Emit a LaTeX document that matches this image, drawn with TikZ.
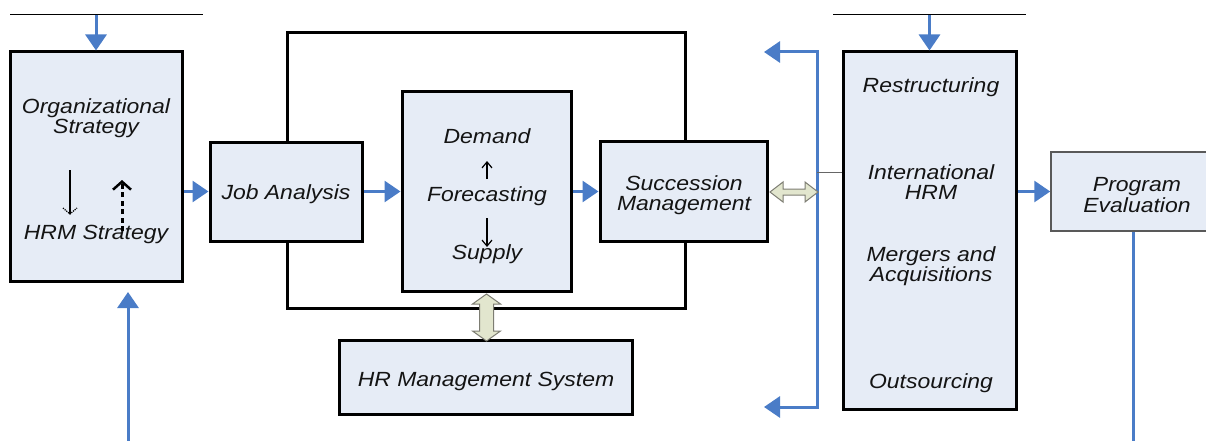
\documentclass[tikz,border=0pt]{standalone}
\usepackage{fontspec}
\setmainfont{Liberation Sans}[FakeStretch=1.12]
\usetikzlibrary{arrows.meta}
\definecolor{boxfill}{RGB}{230,236,246}
\definecolor{blu}{RGB}{74,124,199}
\definecolor{dafill}{RGB}{226,230,206}
\definecolor{daline}{RGB}{125,125,115}
\begin{document}
\begin{tikzpicture}[x=1pt,y=-1pt,
  box/.style={draw=black,line width=3pt,fill=boxfill,inner sep=0pt},
  txt/.style={font=\fontsize{20.5}{20.5}\selectfont\itshape,align=center,inner sep=0pt,text=black!92},
  flow/.style={blu,line width=3pt,-{Triangle[length=16pt,width=21pt]}},
  flowline/.style={blu,line width=3pt},
  dbl/.style={draw=daline,fill=dafill,line width=1pt,line join=miter},
  thinarrow/.style={line width=1.2pt,-{Straight Barb[length=6pt,width=10pt]}},
  rule/.style={line width=1pt,black}
]
\clip (0,0) rectangle (1206,441);
\useasboundingbox (0,0) rectangle (1206,441);

% outer frame
\node[draw,line width=3pt,minimum width=398pt,minimum height=275pt,inner sep=0pt] (frame) at (486,170.5) {};

% boxes
\node[box,minimum width=172pt,minimum height=229pt] (org) at (96,166.5) {};
\node[box,minimum width=152pt,minimum height=99pt] (ja) at (286,191.5) {};
\node[box,minimum width=169pt,minimum height=199pt] (fc) at (486.5,191.5) {};
\node[box,minimum width=167pt,minimum height=100pt] (sm) at (683.5,191) {};
\node[box,minimum width=173pt,minimum height=357pt] (rb) at (929.5,230.5) {};
\node[draw=black!65,line width=1.5pt,fill=boxfill,inner sep=0pt,minimum width=164pt,minimum height=79pt] (pe) at (1133,191.5) {};
\node[box,minimum width=293pt,minimum height=74pt] (hrms) at (485.5,377) {};

% texts
\node[txt] (t-org) at (96,118) {Organizational\\Strategy};
\node[txt] (t-hrm) at (96,234) {HRM Strategy};
\node[txt] (t-ja) at (286,194) {Job Analysis};
\node[txt] (t-dem) at (487,136) {Demand};
\node[txt] (t-fc) at (487,196) {Forecasting};
\node[txt] (t-sup) at (487,254) {Supply};
\node[txt] (t-sm) at (684,195) {Succession\\Management};
\node[txt] (t-re) at (931,87) {Restructuring};
\node[txt] (t-ih) at (931,182) {International\\HRM};
\node[txt] (t-ma) at (931,266) {Mergers and\\Acquisitions};
\node[txt] (t-out) at (931,383) {Outsourcing};
\node[txt] (t-pe) at (1137,195) {Program\\Evaluation};
\node[txt] (t-hs) at (486,381) {HR Management System};

% arrows inside strategy box
\coordinate (s1a) at (70,170);
\coordinate (s1b) at (70,214);
\draw[line width=1.5pt] (s1a) -- (s1b);
\draw[line width=1.2pt,densely dotted] (63,208) -- (s1b) -- (77,208);
\coordinate (s2a) at (122,231);
\coordinate (s2b) at (122,180);
\draw[line width=3pt,dash pattern=on 5pt off 3.5pt,-{Straight Barb[length=8pt,width=18pt,line width=2.5pt]}] (s2a) -- (s2b);

% arrows inside forecasting box
\coordinate (f1a) at (487,179);
\coordinate (f1b) at (487,161);
\draw[thinarrow] (f1a) -- (f1b);
\coordinate (f2a) at (487,218);
\coordinate (f2b) at (487,247);
\draw[thinarrow] (f2a) -- (f2b);

% top rules and feeds
\coordinate (r1a) at (10,15);
\coordinate (r1b) at (203,15);
\draw[rule] (r1a) -- (r1b);
\coordinate (r1m) at (96,15);
\draw[flow] (r1m) -- (org.north);
\coordinate (r2a) at (833,15);
\coordinate (r2b) at (1026,15);
\draw[rule] (r2a) -- (r2b);
\coordinate (r2m) at (929.5,15);
\draw[flow] (r2m) -- (rb.north);

% bottom feed into strategy box
\coordinate (bf) at (128,445);
\coordinate (bfe) at (128,292);
\draw[flow] (bf) -- (bfe);

% main flow
\draw[flow] (org.east |- ja.west) -- (ja.west);
\draw[flow] (ja.east) -- (fc.west);
\draw[flow] (fc.east) -- (sm.west |- fc.east);
\draw[flow] (rb.east |- pe.west) -- (pe.west);
\coordinate (pebot) at (1133,445);
\draw[flowline] (pe.south) -- (pebot);

% blue bracket
\coordinate (vt) at (817,52);
\coordinate (vb) at (817,407);
\coordinate (lt) at (764,52);
\coordinate (lb) at (764,407);
\draw[blu,line width=3pt,line join=miter,{Triangle[length=16pt,width=21pt]}-{Triangle[length=16pt,width=21pt]}] (lt) -- (vt) -- (vb) -- (lb);
\coordinate (gl) at (817,172);
\draw[line width=0.8pt,black!60] (gl) -- (rb.west |- gl);

% double arrows
\draw[dbl] (sm.east) ++(1.5,1) -- ++(13,-10) -- ++(0,7) -- ++(22,0) -- ++(0,-7) -- ++(13,10) -- ++(-13,10) -- ++(0,-7) -- ++(-22,0) -- ++(0,7) -- cycle;
\draw[dbl] (fc.south) ++(0,1.5) -- ++(14,10) -- ++(-7,0) -- ++(0,27) -- ++(7,0) -- ++(-14,10) -- ++(-14,-10) -- ++(7,0) -- ++(0,-27) -- ++(-7,0) -- cycle;
\end{tikzpicture}
\end{document}
